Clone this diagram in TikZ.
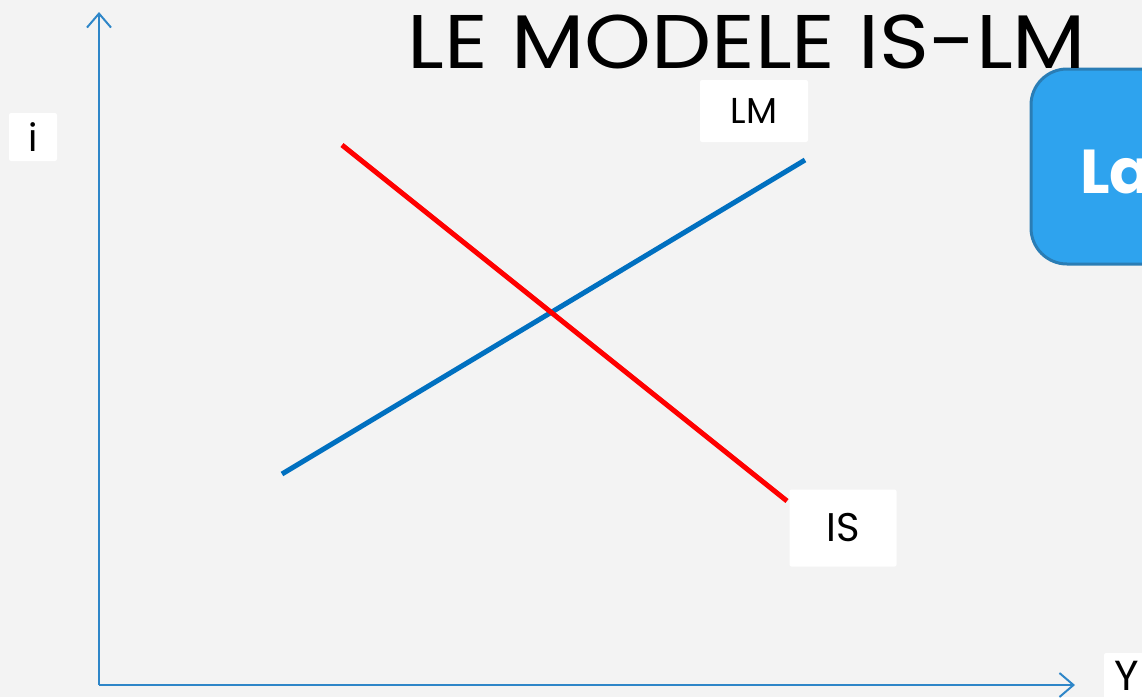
\documentclass[tikz,border=0pt]{standalone}
\usepackage{fontspec}
\setmainfont{Poppins}
\usetikzlibrary{arrows.meta}
\definecolor{bgc}{HTML}{F3F3F3}
\definecolor{axisblue}{HTML}{2E86C8}
\definecolor{lmblue}{HTML}{0070C0}
\definecolor{boxblue}{HTML}{2EA3EE}
\definecolor{boxedge}{HTML}{2A7DB5}
\tikzset{
  axis/.style={draw=axisblue,line width=2pt,-{Straight Barb[length=14pt,width=24pt,line width=2pt]}},
  curve/.style={line width=5pt},
  lbl/.style={fill=white,text=black,inner sep=0pt,rounded corners=2pt},
}
\begin{document}
\begin{tikzpicture}[x=1pt,y=-1pt]
\useasboundingbox (0,0) rectangle (1142,697);
\clip (0,0) rectangle (1142,697);
\fill[bgc] (0,0) rectangle (1142,697);
% blue box
\draw[fill=boxblue,draw=boxedge,line width=3pt,rounded corners=36pt] (1031,69) rectangle (1220,264);
\node[text=white,font=\bfseries\fontsize{62}{66}\selectfont,anchor=west,inner sep=0pt] (la) at (1080,172) {La};
% title
\node[font=\fontsize{76}{80}\selectfont,anchor=center,inner sep=0pt] (title) at (747,42) {\scalebox{1.12}[1]{LE MODELE IS-LM}};
% axes
\coordinate (o) at (99,685);
\coordinate (ytop) at (99,12);
\coordinate (xend) at (1075,685);
\draw[axis] (o) -- (ytop);
\draw[axis] (o) -- (xend);
% curves
\coordinate (lm1) at (282,474);
\coordinate (lm2) at (805,160);
\coordinate (is1) at (342,145);
\coordinate (is2) at (787,501);
\draw[curve,draw=lmblue] (lm1) -- (lm2);
\draw[curve,draw=red] (is1) -- (is2);
% labels
\node[lbl,minimum width=48pt,minimum height=48pt,font=\fontsize{38}{40}\selectfont] (i) at (33,137) {i};
\node[lbl,minimum width=108pt,minimum height=62pt,font=\fontsize{36}{40}\selectfont] (lm) at (754,111) {LM};
\node[lbl,minimum width=107pt,minimum height=77pt,font=\fontsize{40}{42}\selectfont] (is) at (843,528) {IS};
\fill[white,rounded corners=2pt] (1104,653) rectangle (1170,720);
\node[font=\fontsize{42}{44}\selectfont,inner sep=0pt] (y) at (1127,676) {Y};
\end{tikzpicture}
\end{document}
